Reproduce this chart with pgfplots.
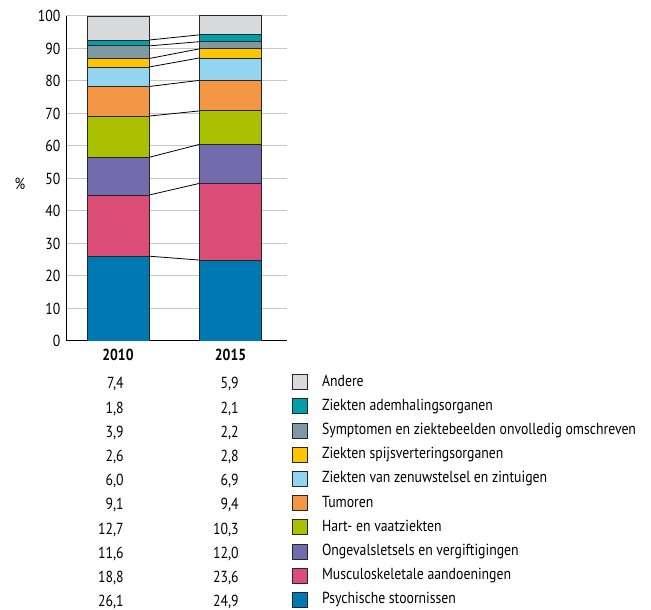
\documentclass[border=0pt]{standalone}
\usepackage{fontspec}
\setmainfont{PT Sans}[FakeStretch=0.86]
\usepackage{pgfplots}
\pgfplotsset{compat=1.18}

\definecolor{cAndere}{HTML}{D9DADB}
\definecolor{cAdem}{HTML}{00A0A8}
\definecolor{cSympt}{HTML}{7F99A4}
\definecolor{cSpijs}{HTML}{FFC600}
\definecolor{cZenuw}{HTML}{93D4F1}
\definecolor{cTumor}{HTML}{F29545}
\definecolor{cHart}{HTML}{AAC000}
\definecolor{cOngev}{HTML}{736CAC}
\definecolor{cMusc}{HTML}{DB4C77}
\definecolor{cPsych}{HTML}{0078B2}

\begin{document}
\fontsize{12}{14}\selectfont
\begin{tikzpicture}[x=0.75pt,y=0.75pt]
\useasboundingbox (0,0) rectangle (651,610);
\begin{axis}[
  at={(49.5pt,201.75pt)}, anchor=south west,
  scale only axis, width=165.75pt, height=243.75pt,
  ybar stacked, bar width=0.55,
  xmin=-0.462, xmax=1.502, ymin=0, ymax=100,
  xtick={0,1}, xticklabels={\textbf{2010},\textbf{2015}},
  ytick={0,10,...,100},
  ymajorgrids, grid style={draw=black!22, line width=0.75pt},
  axis lines*=left, axis line style={-, line width=0.75pt},
  major tick length=0pt,
  /pgf/number format/assume math mode=true,
  xticklabel style={yshift=-2pt},
  every axis plot/.append style={draw=black!85, line width=0.6pt},
  reverse legend,
  legend cell align=left,
  legend style={at={(1.0226,-0.1012)}, anchor=north west, draw=none,
    inner sep=0pt, row sep=6.15pt,
    nodes={inner sep=0pt, text height=9pt, text depth=3pt},
    /tikz/every odd column/.append style={column sep=10.5pt}},
  legend image code/.code={\draw[#1, draw=black!85, line width=0.6pt] (0pt,-5.6pt) rectangle (11.25pt,5.6pt);},
]
\addplot[fill=cPsych] coordinates {(0,26.1) (1,24.9)};
\addlegendentry{Psychische stoornissen}
\addplot[fill=cMusc] coordinates {(0,18.8) (1,23.6)};
\addlegendentry{Musculoskeletale aandoeningen}
\addplot[fill=cOngev] coordinates {(0,11.6) (1,12.0)};
\addlegendentry{Ongevalsletsels en vergiftigingen}
\addplot[fill=cHart] coordinates {(0,12.7) (1,10.3)};
\addlegendentry{Hart- en vaatziekten}
\addplot[fill=cTumor] coordinates {(0,9.1) (1,9.4)};
\addlegendentry{Tumoren}
\addplot[fill=cZenuw] coordinates {(0,6.0) (1,6.9)};
\addlegendentry{Ziekten van zenuwstelsel en zintuigen}
\addplot[fill=cSpijs] coordinates {(0,2.6) (1,2.8)};
\addlegendentry{Ziekten spijsverteringsorganen}
\addplot[fill=cSympt] coordinates {(0,3.9) (1,2.2)};
\addlegendentry{Symptomen en ziektebeelden onvolledig omschreven}
\addplot[fill=cAdem] coordinates {(0,1.8) (1,2.1)};
\addlegendentry{Ziekten ademhalingsorganen}
\addplot[fill=cAndere] coordinates {(0,7.4) (1,5.9)};
\addlegendentry{Andere}
% connecting lines between the cumulative boundaries
\addplot[stack plots=false, sharp plot, forget plot, draw=black, line width=0.6pt,
  unbounded coords=jump] coordinates {
  (0.275,26.1) (0.725,24.9) (0.5,nan)
  (0.275,44.9) (0.725,48.5) (0.5,nan)
  (0.275,56.5) (0.725,60.5) (0.5,nan)
  (0.275,69.2) (0.725,70.8) (0.5,nan)
  (0.275,78.3) (0.725,80.2) (0.5,nan)
  (0.275,84.3) (0.725,87.1) (0.5,nan)
  (0.275,86.9) (0.725,89.9) (0.5,nan)
  (0.275,90.8) (0.725,92.1) (0.5,nan)
  (0.275,92.6) (0.725,94.2)
};
\end{axis}
\node at (20,426) {\%};
\foreach \a/\b [count=\i from 0] in {7.4/5.9, 1.8/2.1, 3.9/2.2, 2.6/2.8, 6.0/6.9,
    9.1/9.4, 12.7/10.3, 11.6/12.0, 18.8/23.6, 26.1/24.9} {
  \node[anchor=base east, inner sep=0pt] at (124,{221-24.2*\i})
    {\pgfmathprintnumber[use comma,fixed,fixed zerofill,precision=1,assume math mode=true]{\a}};
  \node[anchor=base east, inner sep=0pt] at (239,{221-24.2*\i})
    {\pgfmathprintnumber[use comma,fixed,fixed zerofill,precision=1,assume math mode=true]{\b}};
}
\end{tikzpicture}
\end{document}
